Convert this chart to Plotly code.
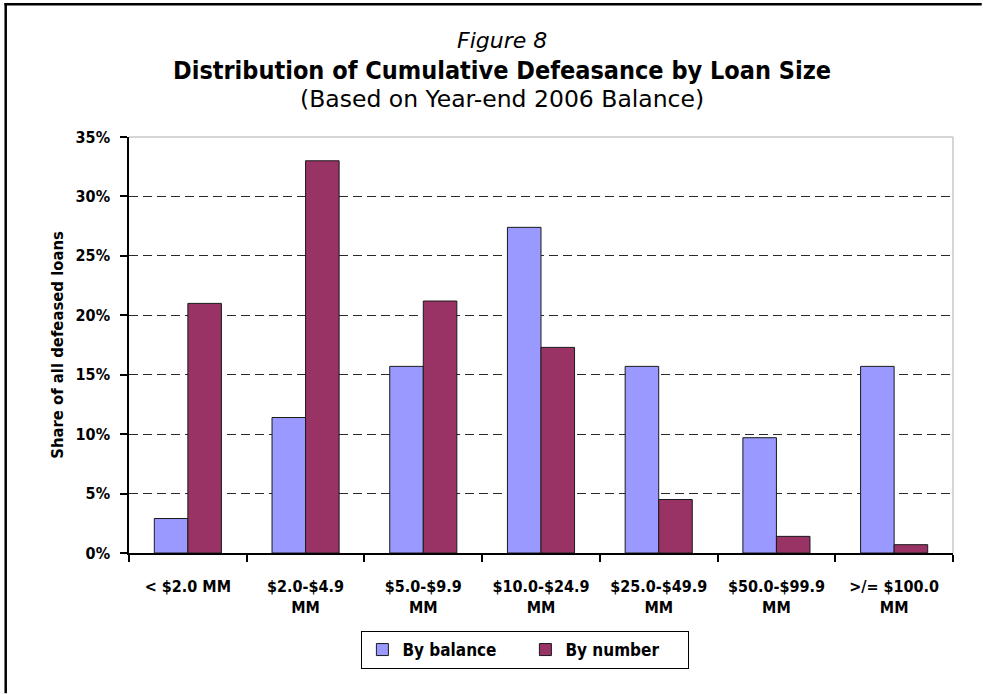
import plotly.graph_objects as go

# Loan-size buckets and the two shares of all defeased loans (%)
categories = ["< $2.0 MM", "$2.0-$4.9<br>MM", "$5.0-$9.9<br>MM", "$10.0-$24.9<br>MM",
              "$25.0-$49.9<br>MM", "$50.0-$99.9<br>MM", ">/= $100.0<br>MM"]
by_balance = [2.9, 11.4, 15.7, 27.4, 15.7, 9.7, 15.7]
by_number = [21.0, 33.0, 21.2, 17.3, 4.5, 1.4, 0.7]
y_ticks = [0, 5, 10, 15, 20, 25, 30, 35]
y_tick_labels = ["0%", "5%", "10%", "15%", "20%", "25%", "30%", "35%"]

W, H = 983, 694
L, R, T, B = 129.3, 953.3, 136.7, 552.7
PW, PH = R - L, B - T


def px(x):
    return (x - L) / PW


def py(y):
    return (B - y) / PH


NARROW = "DejaVu Sans Condensed, Liberation Sans, sans-serif"
PLAIN = "DejaVu Sans, Liberation Sans, sans-serif"

fig = go.Figure()
fig.add_trace(go.Bar(x=categories, y=by_balance, name="By balance",
                     marker=dict(color="#9999FF", line=dict(color="#1a1a1a", width=1))))
fig.add_trace(go.Bar(x=categories, y=by_number, name="By number",
                     marker=dict(color="#993366", line=dict(color="#1a1a1a", width=1))))

fig.update_layout(
    width=W, height=H,
    margin=dict(l=L, r=W - R, t=T, b=H - B, pad=0),
    paper_bgcolor="white", plot_bgcolor="white",
    barmode="group", bargap=0.43, bargroupgap=0,
    font=dict(family=NARROW, color="black"),
    showlegend=True,
    legend=dict(orientation="h", x=px(361.7), y=py(630.7), xanchor="left", yanchor="top",
                bordercolor="black", borderwidth=1, bgcolor="white",
                font=dict(family=NARROW, size=17, color="black", weight="bold"),
                itemwidth=30, tracegroupgap=0, entrywidthmode="pixels", entrywidth=118),
)

fig.update_xaxes(
    showline=True, linecolor="black", linewidth=1.5, mirror=False,
    ticks="outside", tickson="boundaries", ticklen=7, tickcolor="black", tickwidth=1.5,
    tickfont=dict(family=NARROW, size=16, color="black", weight="bold"),
    ticklabelstandoff=18, showgrid=False, fixedrange=True,
)
fig.update_yaxes(
    range=[0, 35], tickvals=y_ticks, ticktext=y_tick_labels,
    showline=True, linecolor="black", linewidth=1.5,
    ticks="outside", ticklen=7, tickcolor="black", tickwidth=1.5,
    tickfont=dict(family=NARROW, size=16, color="black", weight="bold"),
    ticklabelstandoff=7,
    showgrid=True, gridcolor="#2a2a2a", gridwidth=1, griddash="9px,5px",
    zeroline=False, fixedrange=True,
    title=dict(text="Share of all defeased loans",
               font=dict(family=NARROW, size=16.5, color="black", weight="bold"),
               standoff=8),
)

# light frame along the top and right of the plotting area
fig.add_shape(type="line", xref="paper", yref="paper", x0=0, x1=1, y0=1, y1=1,
              line=dict(color="#c8c8c8", width=1.5), layer="below")
fig.add_shape(type="line", xref="paper", yref="paper", x0=1, x1=1, y0=0, y1=1,
              line=dict(color="#c8c8c8", width=1.5), layer="below")

# outer frame of the figure: top and left edges, kept inside the page
fig.add_shape(type="line", xref="paper", yref="paper",
              x0=px(4.8), x1=px(W - 1), y0=py(4), y1=py(4),
              line=dict(color="black", width=2.5))
fig.add_shape(type="line", xref="paper", yref="paper",
              x0=px(6), x1=px(6), y0=py(2.8), y1=py(H - 1),
              line=dict(color="black", width=2.5))

# titles
cx = px(502)
fig.add_annotation(text="<i>Figure 8</i>", xref="paper", yref="paper", x=cx, y=py(40),
                   xanchor="center", yanchor="middle", showarrow=False,
                   font=dict(family=PLAIN, size=22, color="black"))
fig.add_annotation(text="<b>Distribution of Cumulative Defeasance by Loan Size</b>",
                   xref="paper", yref="paper", x=cx, y=py(70),
                   xanchor="center", yanchor="middle", showarrow=False,
                   font=dict(family=NARROW, size=25, color="black"))
fig.add_annotation(text="(Based on Year-end 2006 Balance)", xref="paper", yref="paper",
                   x=cx, y=py(99), xanchor="center", yanchor="middle", showarrow=False,
                   font=dict(family=PLAIN, size=23.5, color="black"))

fig.write_html("out.html")
